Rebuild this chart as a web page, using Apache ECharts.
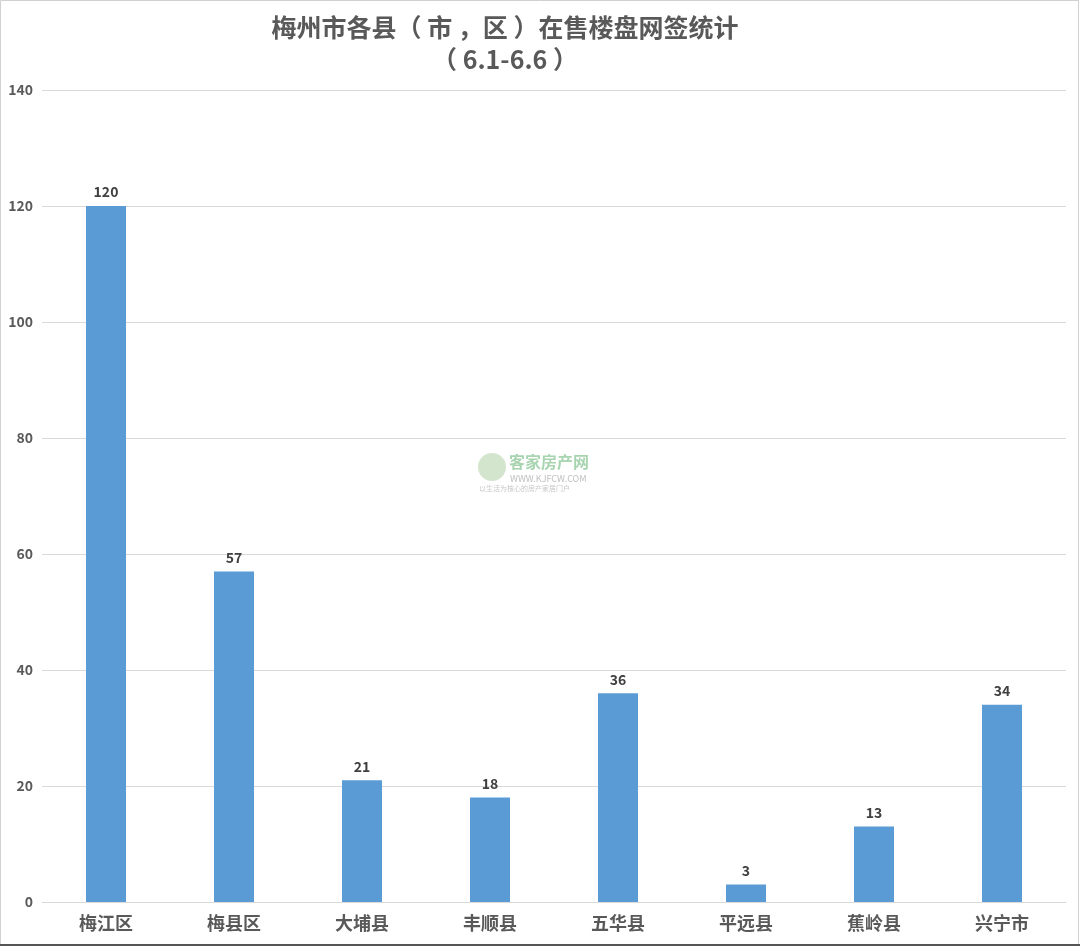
<!DOCTYPE html>
<html><head><meta charset="utf-8">
<script src="https://cdn.jsdelivr.net/npm/echarts@6/dist/echarts.min.js"></script>
<style>html,body{margin:0;padding:0;background:#fff}#c{width:1080px;height:947px}</style>
</head><body><div id="c"></div>
<script>
const categories = ['梅江区','梅县区','大埔县','丰顺县','五华县','平远县','蕉岭县','兴宁市'];
const values = [120, 57, 21, 18, 36, 3, 13, 34];
const yTicks = [0, 20, 40, 60, 80, 100, 120, 140];

const chart = echarts.init(document.getElementById('c'), null, {renderer:'canvas'});
const font = '"Microsoft YaHei","Noto Sans CJK SC",sans-serif';
chart.setOption({
  animation: false,
  backgroundColor: '#fff',
  title: {
    text: '梅州市各县（ 市 ，区 ）在售楼盘网签统计\n（ 6.1-6.6 ）',
    left: 500, top: 6, textAlign: 'center',
    textStyle: {fontSize: 25, fontWeight: 'bold', color: '#595959', fontFamily: font, lineHeight: 32}
  },
  grid: {left: 42, right: 14, top: 90, bottom: 45, containLabel: false},
  xAxis: {
    type: 'category', data: categories,
    axisLine: {lineStyle: {color: '#d9d9d9', width: 1}},
    axisTick: {show: false},
    axisLabel: {fontSize: 18, fontWeight: 'bold', color: '#595959', fontFamily: font, margin: 12}
  },
  yAxis: {
    type: 'value', min: yTicks[0], max: yTicks[yTicks.length-1], interval: 20,
    axisLine: {show: false}, axisTick: {show: false},
    axisLabel: {fontSize: 14, fontWeight: 'bold', color: '#595959', fontFamily: font, margin: 9},
    splitLine: {lineStyle: {color: '#d9d9d9', width: 1}}
  },
  series: [{
    type: 'bar', data: values, barWidth: 40,
    itemStyle: {color: '#5b9bd5'},
    label: {show: true, position: 'top', distance: 7, fontSize: 14, fontWeight: 'bold', color: '#404040', fontFamily: font}
  }],
  graphic: [
    {type: 'rect', shape: {x: 0.5, y: 0.5, width: 1078, height: 945}, style: {fill: 'none', stroke: '#d0d0d0', lineWidth: 1}, z: 100},
    {type: 'rect', shape: {x: 0, y: 944, width: 1080, height: 2}, style: {fill: '#555'}, z: 100},
    {type: 'circle', shape: {cx: 492, cy: 467, r: 14}, style: {fill: '#c8e0c0', opacity: 0.8}, z: 50},
    {type: 'text', left: 509, top: 454, style: {text: '客家房产网', fontSize: 16, fontWeight: 'bold', fill: '#a8d4b0', fontFamily: font}, z: 50},
    {type: 'text', left: 510, top: 474, style: {text: 'WWW.KJFCW.COM', fontSize: 9, fill: '#c0c0c0', fontFamily: font}, z: 50},
    {type: 'text', left: 479, top: 485, style: {text: '以生活为核心的房产家居门户', fontSize: 7, fill: '#c8c8c8', fontFamily: font}, z: 50}
  ]
});
</script></body></html>
